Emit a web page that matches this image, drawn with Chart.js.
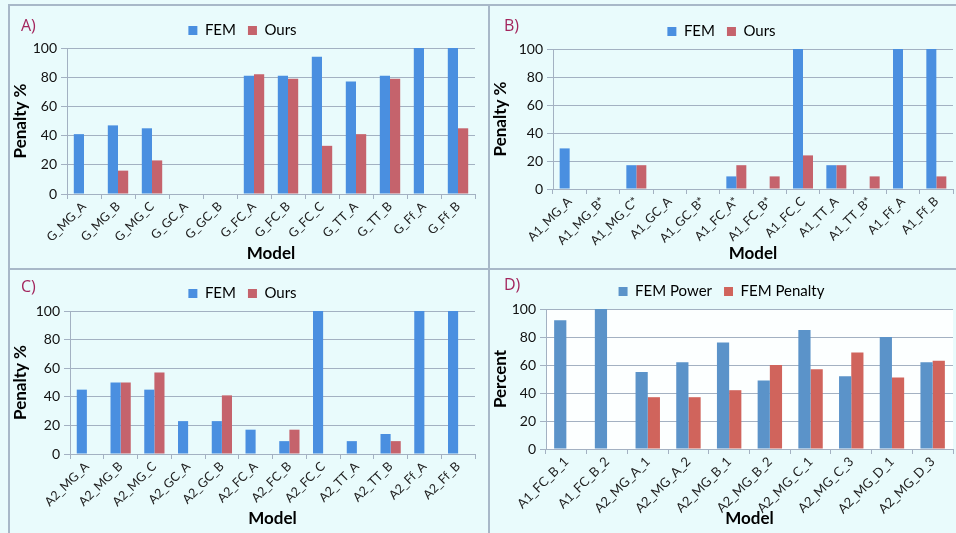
<!DOCTYPE html>
<html>
<head>
<meta charset="utf-8">
<script src="https://cdn.jsdelivr.net/npm/chart.js@4.4.1/dist/chart.umd.min.js"></script>
<style>
  html, body { margin: 0; padding: 0; background: #e9fbfc; }
  body { width: 956px; height: 533px; position: relative; overflow: hidden; font-family: Lato, "Open Sans", sans-serif; }
  .panel { position: absolute; box-sizing: border-box; }
  .panel canvas { position: absolute; left: 0; top: 0; }
  .tag { position: absolute; color: #a3255d; font-size: 16px; font-family: "Open Sans", sans-serif; }
  .hline, .vline { position: absolute; background: #a8b8c8; }
</style>
</head>
<body>
<div class="hline" style="left:8px; top:4px; width:948px; height:2px;"></div>
<div class="vline" style="left:8px; top:4px; width:2px; height:529px;"></div>
<div class="hline" style="left:8px; top:268px; width:948px; height:2px;"></div>
<div class="vline" style="left:488px; top:4px; width:2px; height:529px;"></div>

<div class="panel" style="left:10px; top:6px; width:478px; height:262px;"><canvas id="chartA" width="478" height="262"></canvas></div>
<div class="panel" style="left:490px; top:6px; width:466px; height:262px;"><canvas id="chartB" width="466" height="262"></canvas></div>
<div class="panel" style="left:10px; top:270px; width:478px; height:263px;"><canvas id="chartC" width="478" height="263"></canvas></div>
<div class="panel" style="left:490px; top:270px; width:466px; height:263px;"><canvas id="chartD" width="466" height="263"></canvas></div>

<div class="tag" style="left:21px; top:14px;">A)</div>
<div class="tag" style="left:504px; top:14px;">B)</div>
<div class="tag" style="left:21px; top:275px;">C)</div>
<div class="tag" style="left:504px; top:273px;">D)</div>

<script>
// A) generic models
const catsA = ['G_MG_A', 'G_MG_B', 'G_MG_C', 'G_GC_A', 'G_GC_B', 'G_FC_A', 'G_FC_B', 'G_FC_C', 'G_TT_A', 'G_TT_B', 'G_Ff_A', 'G_Ff_B'];
const femA = [41, 47, 45, 0, 0, 81, 81, 94, 77, 81, 100, 100];
const oursA = [0, 16, 23, 0, 0, 82, 79, 33, 41, 79, 0, 45];

// B) A1 models
const catsB = ['A1_MG_A', 'A1_MG_B*', 'A1_MG_C*', 'A1_GC_A', 'A1_GC_B*', 'A1_FC_A*', 'A1_FC_B*', 'A1_FC_C', 'A1_TT_A', 'A1_TT_B*', 'A1_Ff_A', 'A1_Ff_B'];
const femB = [29, 0, 17, 0, 0, 9, 0, 100, 17, 0, 100, 100];
const oursB = [0, 0, 17, 0, 0, 17, 9, 24, 17, 9, 0, 9];

// C) A2 models
const catsC = ['A2_MG_A', 'A2_MG_B', 'A2_MG_C', 'A2_GC_A', 'A2_GC_B', 'A2_FC_A', 'A2_FC_B', 'A2_FC_C', 'A2_TT_A', 'A2_TT_B', 'A2_Ff_A', 'A2_Ff_B'];
const femC = [45, 50, 45, 23, 23, 17, 9, 100, 9, 14, 100, 100];
const oursC = [0, 50, 57, 0, 41, 0, 17, 0, 0, 9, 0, 0];

// D) power vs penalty
const catsD = ['A1_FC_B_1', 'A1_FC_B_2', 'A2_MG_A_1', 'A2_MG_A_2', 'A2_MG_B_1', 'A2_MG_B_2', 'A2_MG_C_1', 'A2_MG_C_3', 'A2_MG_D_1', 'A2_MG_D_3'];
const powerD = [92, 100, 55, 62, 76, 49, 85, 52, 80, 62];
const penaltyD = [0, 0, 37, 37, 42, 60, 57, 69, 51, 63];

const yTicks = [0, 20, 40, 60, 80, 100];

const FONT = 'Lato, "Open Sans", sans-serif';
const GRID = '#a3b1c2';

// white plot background for panel D
const plotBg = {
    id: 'plotBg',
    beforeDraw(chart, args, opts) {
        if (!opts.color) return;
        const a = chart.chartArea;
        const ctx = chart.ctx;
        ctx.save();
        ctx.fillStyle = opts.color;
        ctx.fillRect(a.left, a.top, a.right - a.left, a.bottom - a.top);
        ctx.restore();
    }
};

function makeChart(id, cats, s1, s2, names, colors, yTitle, cfg) {
    const ctx = document.getElementById(id).getContext('2d');
    return new Chart(ctx, {
        type: 'bar',
        data: {
            labels: cats,
            datasets: [
                { label: names[0], data: s1, backgroundColor: colors[0], barPercentage: 1, categoryPercentage: cfg.catPct },
                { label: names[1], data: s2, backgroundColor: colors[1], barPercentage: 1, categoryPercentage: cfg.catPct }
            ]
        },
        options: {
            responsive: false,
            animation: false,
            layout: { padding: cfg.padding },
            plugins: {
                plotBg: { color: cfg.plotBg || null },
                tooltip: { enabled: false },
                legend: {
                    position: 'top',
                    labels: {
                        color: '#000',
                        boxWidth: 9,
                        boxHeight: 9,
                        padding: cfg.legendGap,
                        font: { family: FONT, size: 15 }
                    }
                }
            },
            scales: {
                x: {
                    grid: { display: true, drawOnChartArea: false, drawTicks: true, tickLength: 5, color: GRID },
                    border: { color: GRID, width: 1 },
                    ticks: { color: '#222', minRotation: 45, maxRotation: 45, padding: 0, font: { family: FONT, size: cfg.xFont } },
                    title: { display: true, text: 'Model', color: '#000', padding: { top: 0, bottom: 0 }, font: { family: FONT, size: 17, weight: 'bold' } },
                    afterFit(scale) { scale.height = cfg.xHeight; }
                },
                y: {
                    min: 0,
                    max: 100,
                    afterBuildTicks(scale) { scale.ticks = yTicks.map(v => ({ value: v })); },
                    grid: { color: GRID, tickLength: 6, lineWidth: 1 },
                    border: { color: GRID, width: 1 },
                    ticks: { color: '#111', padding: 4, font: { family: FONT, size: 14 } },
                    title: { display: true, text: yTitle, color: '#000', padding: { top: 0, bottom: 2 }, font: { family: FONT, size: 17, weight: 'bold' } },
                    afterFit(scale) { scale.width = cfg.yWidth; }
                }
            }
        },
        plugins: [plotBg]
    });
}

makeChart('chartA', catsA, femA, oursA, ['FEM', 'Ours'], ['#4a8fe0', '#c5636c'], 'Penalty %',
    { catPct: 0.6, padding: { left: 0, right: 13, top: 5, bottom: 4 }, legendGap: 12, xHeight: 70, yWidth: 57, xFont: 12.5 });
makeChart('chartB', catsB, femB, oursB, ['FEM', 'Ours'], ['#4a8fe0', '#c5636c'], 'Penalty %',
    { catPct: 0.6, padding: { left: 0, right: 3, top: 6, bottom: 4 }, legendGap: 12, xHeight: 75, yWidth: 63, xFont: 12.5 });
makeChart('chartC', catsC, femC, oursC, ['FEM', 'Ours'], ['#4a8fe0', '#c5636c'], 'Penalty %',
    { catPct: 0.6, padding: { left: 0, right: 13, top: 4, bottom: 4 }, legendGap: 12, xHeight: 75, yWidth: 60, xFont: 12.5 });
makeChart('chartD', catsD, powerD, penaltyD, ['FEM Power', 'FEM Penalty'], ['#5b93c9', '#d0645c'], 'Percent',
    { catPct: 0.6, padding: { left: 0, right: 3, top: 2, bottom: 4 }, legendGap: 12, xHeight: 80, yWidth: 56, xFont: 13, plotBg: '#fcffff' });
</script>
</body>
</html>
